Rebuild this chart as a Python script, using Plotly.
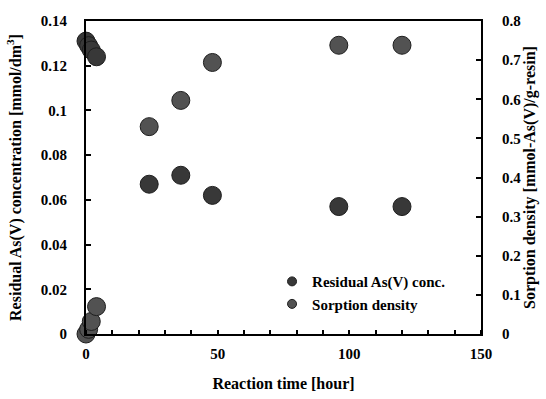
import plotly.graph_objects as go

# Reaction time [hour]
time_h = [0, 1, 2, 4, 24, 36, 48, 96, 120]
# Residual As(V) concentration [mmol/dm3]
residual_conc = [0.131, 0.129, 0.127, 0.124, 0.067, 0.071, 0.062, 0.057, 0.057]
# Sorption density [mmol-As(V)/g-resin]
sorption_density = [0.0, 0.012, 0.032, 0.07, 0.53, 0.597, 0.694, 0.738, 0.738]

series_names = ["Residual As(V) conc.", "Sorption density"]
x_ticks = [0, 50, 100, 150]
y1_ticks = [0, 0.02, 0.04, 0.06, 0.08, 0.1, 0.12, 0.14]
y1_labels = ["0", "0.02", "0.04", "0.06", "0.08", "0.1", "0.12", "0.14"]
y2_ticks = [0, 0.1, 0.2, 0.3, 0.4, 0.5, 0.6, 0.7, 0.8]
y2_labels = ["0", "0.1", "0.2", "0.3", "0.4", "0.5", "0.6", "0.7", "0.8"]

FONT = "Liberation Serif"
conc_color = "#383838"
sorp_color = "#525252"
edge = "#1e1e1e"

fig = go.Figure()

fig.add_trace(go.Scatter(
    x=time_h, y=residual_conc, mode="markers", name=series_names[0],
    marker=dict(size=18, color=conc_color, line=dict(color=edge, width=1)),
    showlegend=False, yaxis="y", cliponaxis=False,
))
fig.add_trace(go.Scatter(
    x=time_h, y=sorption_density, mode="markers", name=series_names[1],
    marker=dict(size=18, color=sorp_color, line=dict(color=edge, width=1)),
    showlegend=False, yaxis="y2", cliponaxis=False,
))

# small legend entries
for name, col in zip(series_names, [conc_color, sorp_color]):
    fig.add_trace(go.Scatter(
        x=[None], y=[None], mode="markers", name=name,
        marker=dict(size=9, color=col, line=dict(color=edge, width=1)),
        showlegend=True,
    ))

tickfont = dict(family=FONT, size=15, color="black", weight="bold")
titlefont = dict(family=FONT, size=16, color="black", weight="bold")

fig.update_layout(
    width=546, height=399,
    margin=dict(l=86, r=65, t=21, b=65, autoexpand=False),
    paper_bgcolor="white", plot_bgcolor="white",
    font=dict(family=FONT, color="black"),
    xaxis=dict(
        range=[0, 150], tickvals=x_ticks, ticks="", showgrid=False, zeroline=False,
        showline=True, linecolor="black", linewidth=2, mirror=True, automargin=False,
        tickfont=tickfont, ticklabelstandoff=5,
        title=dict(text="Reaction time [hour]", font=titlefont, standoff=17),
        minor=dict(dtick=10, ticks="inside", ticklen=4, tickcolor="black", tickwidth=1.5),
    ),
    yaxis=dict(
        range=[0, 0.14], tickvals=y1_ticks, ticktext=y1_labels,
        ticks="inside", ticklen=5, tickwidth=1.5, tickcolor="black",
        showgrid=False, zeroline=False, showline=True, linecolor="black", linewidth=2,
        automargin=False,
        tickfont=tickfont, ticklabelstandoff=14,
        title=dict(text="Residual As(V) concentration [mmol/dm<sup>3</sup>]", font=titlefont, standoff=15),
    ),
    yaxis2=dict(
        range=[0, 0.8], tickvals=y2_ticks, ticktext=y2_labels,
        overlaying="y", side="right", automargin=False,
        ticks="inside", ticklen=5, tickwidth=1.5, tickcolor="black",
        showgrid=False, zeroline=False, showline=True, linecolor="black", linewidth=2,
        tickfont=tickfont, ticklabelstandoff=16,
        title=dict(text="Sorption density [mmol-As(V)/g-resin]", font=titlefont, standoff=4),
    ),
    legend=dict(
        x=0.471, y=0.22, xanchor="left", yanchor="top",
        bgcolor="rgba(0,0,0,0)", font=dict(family=FONT, size=15, color="black", weight="bold"),
        itemsizing="trace", tracegroupgap=0, itemwidth=30,
    ),
)

fig.write_html("out.html")
